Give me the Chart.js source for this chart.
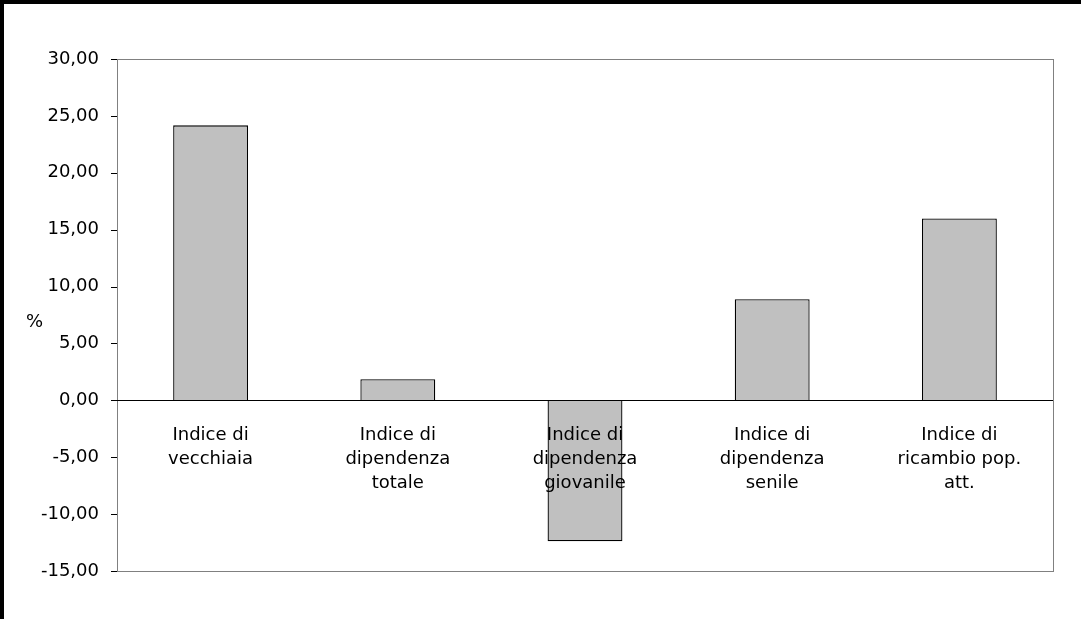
<!DOCTYPE html>
<html><head><meta charset="utf-8">
<script src="https://cdn.jsdelivr.net/npm/chart.js@4/dist/chart.umd.min.js"></script>
<style>
html,body{margin:0;padding:0;background:#fff;}
#wrap{position:absolute;left:0;top:0;width:1081px;height:619px;box-sizing:border-box;border-left:4px solid #000;border-top:4px solid #000;}
</style></head><body>
<div id="wrap"><canvas id="c" width="1077" height="615"></canvas></div>
<script>
var categories = [
    ['Indice di', 'vecchiaia'],
    ['Indice di', 'dipendenza', 'totale'],
    ['Indice di', 'dipendenza', 'giovanile'],
    ['Indice di', 'dipendenza', 'senile'],
    ['Indice di', 'ricambio pop.', 'att.']
];
var values = [24.17, 1.85, -12.39, 8.88, 15.99];

var fmt = function (v) { return v.toFixed(2).replace('.', ','); };

// plot frame and category labels right below the zero line
var decor = {
    id: 'decor',
    afterDatasetsDraw: function (chart) {
        var ctx = chart.ctx, a = chart.chartArea, x = chart.scales.x, y = chart.scales.y;
        ctx.save();
        ctx.strokeStyle = '#808080';
        ctx.lineWidth = 1;
        ctx.strokeRect(a.left + 0.5, a.top + 0.5, a.right - a.left, a.bottom - a.top);
        var zy = Math.round(y.getPixelForValue(0)) + 0.5;
        ctx.strokeStyle = '#000';
        ctx.beginPath(); ctx.moveTo(a.left - 6, zy); ctx.lineTo(a.right, zy); ctx.stroke();
        for (var v = -15; v <= 30; v += 5) {
            var ty = Math.round(y.getPixelForValue(v)) + 0.5;
            ctx.beginPath(); ctx.moveTo(a.left - 6, ty); ctx.lineTo(a.left, ty); ctx.stroke();
        }
        ctx.fillStyle = '#000';
        ctx.font = '18px "DejaVu Sans"';
        ctx.textAlign = 'center';
        ctx.textBaseline = 'top';
        categories.forEach(function (lines, i) {
            var cx = x.getPixelForValue(i);
            lines.forEach(function (t, j) { ctx.fillText(t, cx, zy + 26 + j * 24); });
        });
        ctx.textAlign = 'left';
        ctx.fillText('%', 22, y.getPixelForValue(7.5) - 2);
        ctx.restore();
    }
};

new Chart(document.getElementById('c').getContext('2d'), {
    type: 'bar',
    data: {
        labels: categories.map(function (c) { return c.join(' '); }),
        datasets: [{
            data: values,
            backgroundColor: '#c0c0c0',
            borderColor: '#000',
            borderWidth: 1.3,
            categoryPercentage: 1,
            barPercentage: 0.4
        }]
    },
    options: {
        responsive: false,
        animation: false,
        layout: { padding: { left: 0, top: 55, right: 28, bottom: 40 } },
        plugins: { legend: { display: false }, tooltip: { enabled: false } },
        scales: {
            x: { grid: { display: false }, border: { display: false }, ticks: { display: false } },
            y: {
                min: -15, max: 30,
                afterFit: function (s) { s.width = 113; },
                grid: { display: false }, border: { display: false },
                ticks: { stepSize: 5, padding: 10, color: '#000', font: { family: 'DejaVu Sans', size: 18 }, callback: fmt }
            }
        }
    },
    plugins: [decor]
});
</script>
</body></html>
